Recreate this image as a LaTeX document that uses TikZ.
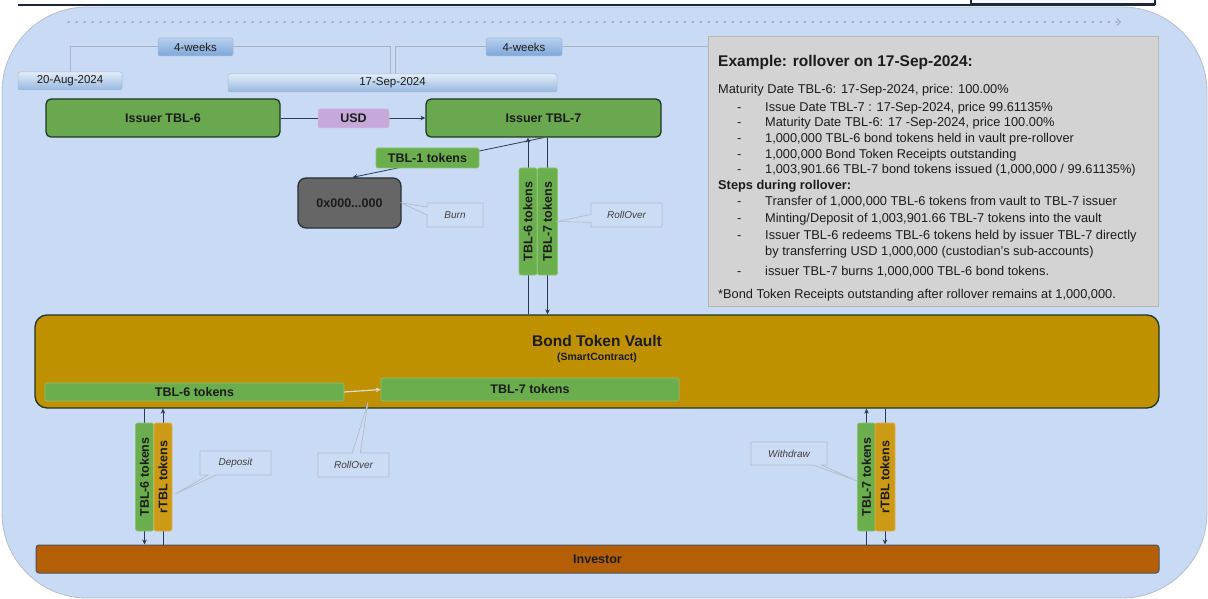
\documentclass[tikz,border=0pt]{standalone}
\usepackage{fontspec}
\setmainfont{Liberation Sans}
\usetikzlibrary{arrows.meta,shapes.callouts,calc,backgrounds}
\newcommand\myfs[1]{\fontsize{#1}{#1}\selectfont}
\definecolor{bgblue}{HTML}{C9DAF5}
\definecolor{bgline}{HTML}{B4BDCA}
\definecolor{topdark}{HTML}{1B2838}
\definecolor{dotc}{HTML}{A3AFC2}
\definecolor{brk}{HTML}{A9B3C0}
\definecolor{grn}{HTML}{6AA84F}
\definecolor{grnd}{HTML}{1E3826}
\definecolor{tokg}{HTML}{6BAE4D}
\definecolor{tokgb}{HTML}{8CC272}
\definecolor{gold}{HTML}{BF9000}
\definecolor{goldtok}{HTML}{CC9A14}
\definecolor{goldb}{HTML}{DDB14A}
\definecolor{inv}{HTML}{B45F06}
\definecolor{usdc}{HTML}{C7A8DA}
\definecolor{zgray}{HTML}{666666}
\definecolor{zbord}{HTML}{263238}
\definecolor{exfill}{HTML}{D3D3D3}
\definecolor{exbord}{HTML}{B6B6B6}
\definecolor{txt}{HTML}{1C1C1C}
\definecolor{arrc}{HTML}{2A3B50}
\definecolor{cfill}{HTML}{CDDCF5}
\definecolor{cbord}{HTML}{B3BBC8}
\definecolor{lightarr}{HTML}{DCDCDC}
\definecolor{datetop}{HTML}{E3ECF8}
\definecolor{datebot}{HTML}{96B8E0}
\definecolor{weektop}{HTML}{B7D0EE}
\definecolor{weekbot}{HTML}{7EA6D8}
\definecolor{boxline}{HTML}{A7BCD8}
\begin{document}
\begin{tikzpicture}[x=1pt,y=-1pt,
  issuer/.style={draw=grnd, line width=1.3pt, fill=grn, rounded corners=5pt, font=\bfseries\myfs{12.5}, text=txt, inner sep=0pt},
  tok/.style={draw=tokgb, line width=0.6pt, fill=tokg, rounded corners=2pt, font=\bfseries\myfs{12.5}, text=txt, inner sep=0pt},
  rtok/.style={draw=goldb, line width=0.6pt, fill=goldtok, rounded corners=2pt, font=\bfseries\myfs{12.5}, text=txt, inner sep=0pt},
  datebox/.style={draw=boxline, line width=0.5pt, top color=datetop, bottom color=datebot, rounded corners=2pt, font=\myfs{11.5}, text=txt, inner sep=0pt},
  weekbox/.style={draw=boxline, line width=0.5pt, top color=weektop, bottom color=weekbot, rounded corners=2pt, font=\myfs{11.5}, text=txt, inner sep=0pt},
  callbox/.style={rectangle callout, draw=cbord, line width=0.7pt, fill=cfill, font=\itshape\myfs{10}, text=txt!85!white, inner sep=0pt, callout pointer width=8pt},
  arr/.style={draw=arrc, line width=0.8pt, -{Stealth[length=5pt,width=4.5pt]}},
  body/.style={font=\myfs{12.8}, text=txt, inner sep=0pt, anchor=base west},
  bodyb/.style={font=\bfseries\myfs{12.8}, text=txt, inner sep=0pt, anchor=base west}
]
\useasboundingbox (0,0) rectangle (1208,599);
\begin{pgfonlayer}{background}
\fill[white] (0,0) rectangle (1208,599);
\draw[draw=bgline, line width=0.8pt, fill=bgblue, rounded corners=85pt] (2,7) rectangle (1207,598);
\end{pgfonlayer}
% top rule and tab
\draw[topdark, line width=2.5pt] (18,5) -- (1155,5);
\draw[topdark, line width=1.2pt, fill=white!85!bgblue] (971,-2) rectangle (1155,4);
% dotted timeline arrow
\draw[dotc, line width=1.4pt, dash pattern=on 1.4pt off 6.6pt, line cap=round, -{Straight Barb[length=3.5pt,width=7pt,line width=1pt]}] (68,22) -- (1121,22);

% example box
\node[draw=exbord, line width=1pt, fill=exfill, minimum width=450pt, minimum height=269pt, inner sep=0pt] (ex) at (933,171.5) {};

% timeline boxes
\node[datebox, minimum width=104pt, minimum height=18pt] (da) at (70,81) {20-Aug-2024};
\node[datebox, minimum width=329pt, minimum height=18pt] (ds) at (392.5,83) {17-Sep-2024};
\node[weekbox, minimum width=75pt, minimum height=18pt] (wa) at (195.5,47) {4-weeks};
\node[weekbox, minimum width=76pt, minimum height=18pt] (wb) at (524,47) {4-weeks};
\begin{pgfonlayer}{background}
\draw[brk, line width=1pt] (da.north) |- (wa.west);
\draw[brk, line width=1pt] (wa.east) -| ([xshift=-2.5pt]ds.north);
\draw[brk, line width=1pt] ([xshift=2.5pt]ds.north) |- (wb.west);
\draw[brk, line width=1pt] (wb.east) -- (wb.east -| ex.west);
\end{pgfonlayer}

% main boxes
\node[issuer, minimum width=234pt, minimum height=38pt] (i6) at (163,118) {Issuer TBL-6};
\node[issuer, minimum width=235pt, minimum height=38pt] (i7) at (543.5,118) {Issuer TBL-7};
\node[draw=zbord, line width=1.3pt, fill=zgray, rounded corners=8pt, minimum width=103pt, minimum height=50pt, inner sep=0pt, font=\bfseries\myfs{12.5}, text=txt] (zero) at (349.5,203) {0x000...000};
\node[draw=grnd, line width=1.3pt, fill=gold, rounded corners=12pt, minimum width=1124pt, minimum height=93pt, inner sep=0pt] (vault) at (597,361.5) {};
\node[draw=topdark!80, line width=1pt, fill=inv, rounded corners=3pt, minimum width=1123pt, minimum height=28pt, inner sep=0pt, font=\bfseries\myfs{12.5}, text=txt] (investor) at (597.5,559) {Investor};
\node[font=\bfseries\myfs{15.5}, text=txt, inner sep=0pt, anchor=base] (vtitle) at (597,346) {Bond Token Vault};
\node[font=\bfseries\myfs{10.5}, text=txt, inner sep=0pt, anchor=base] (vsub) at (597,360) {(SmartContract)};

% coordinates for vertical flows
\coordinate (ca) at (528,221.5);
\coordinate (cb) at (547.5,221.5);
\coordinate (cc) at (144.5,477);
\coordinate (cd) at (163,477);
\coordinate (ce) at (866.5,477);
\coordinate (cf) at (885,477);

% connectors
\draw[arr] (i6.east) -- (i7.west);
\draw[arr] (i7.south) -- ([xshift=3pt]zero.north);
\draw[arr] (vault.north -| ca) -- (i7.south -| ca);
\draw[arr] (i7.south -| cb) -- (vault.north -| cb);
\draw[arr] (vault.south -| cc) -- (investor.north -| cc);
\draw[arr] (investor.north -| cd) -- (vault.south -| cd);
\draw[arr] (investor.north -| ce) -- (vault.south -| ce);
\draw[arr] (vault.south -| cf) -- (investor.north -| cf);

% labels on connectors
\node[draw=usdc!80!white, line width=0.5pt, fill=usdc, rounded corners=2pt, minimum width=71pt, minimum height=19pt, inner sep=0pt, font=\bfseries\myfs{12.5}, text=txt] (usd) at (353.5,118.5) {USD};
\node[tok, minimum width=103pt, minimum height=20pt] (tbl1) at (427.5,158) {TBL-1 tokens};
\node[tok, rotate=90, minimum width=107pt, minimum height=18pt] (ta6) at (ca) {TBL-6 tokens};
\node[tok, rotate=90, minimum width=107pt, minimum height=20pt] (ta7) at (cb) {TBL-7 tokens};
\node[tok, rotate=90, minimum width=108pt, minimum height=18pt] (tb6) at (cc) {TBL-6 tokens};
\node[rtok, rotate=90, minimum width=108pt, minimum height=18pt] (rb1) at (cd) {rTBL tokens};
\node[tok, rotate=90, minimum width=108pt, minimum height=18pt] (tb7) at (ce) {TBL-7 tokens};
\node[rtok, rotate=90, minimum width=108pt, minimum height=20pt] (rb2) at (cf) {rTBL tokens};

% tokens inside the vault
\node[tok, minimum width=299pt, minimum height=18pt] (in6) at (194.5,392) {TBL-6 tokens};
\node[tok, minimum width=298pt, minimum height=23pt] (in7) at (530,389.5) {TBL-7 tokens};
\draw[lightarr, line width=1.2pt, -{Stealth[length=5pt,width=4.5pt]}] (in6.east) -- (in7.west);
\coordinate (rollpt) at ($(in6.east)!0.65!(in7.west)+(0,12)$);

% callouts
\node[callbox, minimum width=56pt, minimum height=24pt, callout absolute pointer={(zero.east)}] (burn) at (455,215) {Burn};
\node[callbox, minimum width=71pt, minimum height=24pt, callout absolute pointer={(ta7.south)}] (rollA) at (626.5,215) {RollOver};
\node[callbox, minimum width=71pt, minimum height=24pt, callout absolute pointer={(rollpt)}] (rollB) at (353.5,465) {RollOver};
\node[callbox, minimum width=71pt, minimum height=24pt, callout absolute pointer={($(rb1.south)+(3,17)$)}] (dep) at (235.5,463) {Deposit};
\node[callbox, minimum width=76pt, minimum height=23pt, callout absolute pointer={($(tb7.north)+(0,4)$)}] (wd) at (789,453.5) {Withdraw};

% example text
\node[font=\bfseries\myfs{15.5}, text=txt, inner sep=0pt, anchor=base west] (t0) at (718,67) {Example: rollover on 17-Sep-2024:};
\node[body] (t1) at (718,93.3) {Maturity Date TBL-6: 17-Sep-2024, price: 100.00\%};
\node[body] (k1) at (737,111.7) {-};
\node[body] (t2) at (765,111.7) {Issue Date TBL-7 : 17-Sep-2024, price 99.61135\%};
\node[body] (k2) at (737,126.9) {-};
\node[body] (t3) at (765,126.9) {Maturity Date TBL-6: 17 -Sep-2024, price 100.00\%};
\node[body] (k3) at (737,142.7) {-};
\node[body] (t4) at (765,142.7) {1,000,000 TBL-6 bond tokens held in vault pre-rollover};
\node[body] (k4) at (737,158.3) {-};
\node[body] (t5) at (765,158.3) {1,000,000 Bond Token Receipts outstanding};
\node[body] (k5) at (737,174) {-};
\node[body] (t6) at (765,174) {1,003,901.66 TBL-7 bond tokens issued (1,000,000 / 99.61135\%)};
\node[bodyb] (t7) at (718,189.3) {Steps during rollover:};
\node[body] (k6) at (737,205.7) {-};
\node[body] (t8) at (765,205.7) {Transfer of 1,000,000 TBL-6 tokens from vault to TBL-7 issuer};
\node[body] (k7) at (737,222.3) {-};
\node[body] (t9) at (765,222.3) {Minting/Deposit of 1,003,901.66 TBL-7 tokens into the vault};
\node[body] (k8) at (737,239) {-};
\node[body] (t10) at (765,239) {Issuer TBL-6 redeems TBL-6 tokens held by issuer TBL-7 directly};
\node[body] (t11) at (765,255) {by transferring USD 1,000,000 (custodian’s sub-accounts)};
\node[body] (k9) at (737,275) {-};
\node[body] (t12) at (765,275) {issuer TBL-7 burns 1,000,000 TBL-6 bond tokens.};
\node[body] (t13) at (718,298.3) {*Bond Token Receipts outstanding after rollover remains at 1,000,000.};
\end{tikzpicture}
\end{document}
